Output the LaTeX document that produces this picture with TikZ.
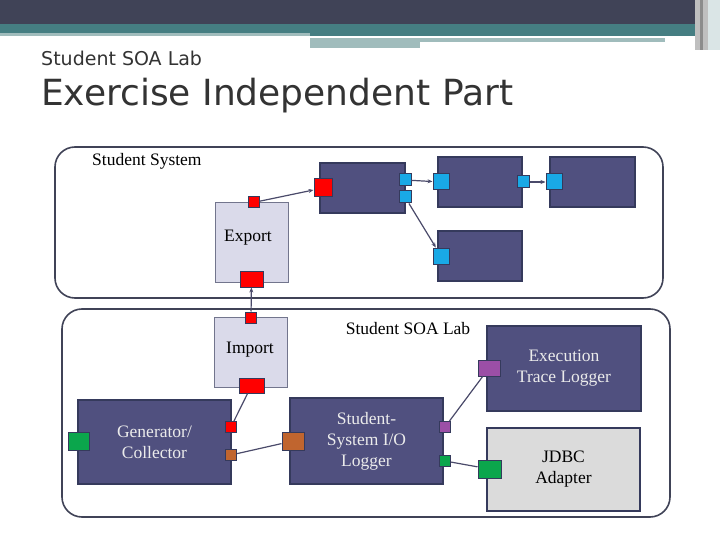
\documentclass[tikz,border=0pt]{standalone}
\usepackage{fontspec}
\setmainfont{Liberation Serif}
\newfontfamily\hdr{DejaVu Sans}
\usetikzlibrary{arrows.meta}
\definecolor{dk}{HTML}{404357}
\definecolor{teal}{HTML}{457E82}
\definecolor{lteal}{HTML}{A0BCBC}
\definecolor{boxf}{HTML}{50507F}
\definecolor{boxd}{HTML}{353A5C}
\definecolor{lite}{HTML}{DADAEA}
\definecolor{pred}{HTML}{FF0000}
\definecolor{pcy}{HTML}{19A9E6}
\definecolor{ppu}{HTML}{9B4FA6}
\definecolor{pgr}{HTML}{0BA64C}
\definecolor{por}{HTML}{C0652F}
\definecolor{ln}{HTML}{4A4A6A}
\tikzset{
 box/.style={draw=boxd,line width=1.2pt,fill=boxf,text=black!8,align=center,font=\fontsize{17.5}{21}\selectfont},
 lbox/.style={draw=boxd!70,line width=1pt,fill=lite,align=center,font=\fontsize{17.5}{21}\selectfont},
 port/.style={draw=boxd,line width=1pt,inner sep=0,minimum width=#1,minimum height=#1},
 con/.style={draw=ln,line width=1.2pt},
 arr/.style={con,-{Stealth[length=5pt,width=4pt]}},
 grp/.style={draw=dk,line width=1.6pt,rounded corners=20pt},
 lbl/.style={font=\fontsize{17.5}{21}\selectfont,inner sep=0}
}
\begin{document}
\begin{tikzpicture}[x=1pt,y=-1pt]
\useasboundingbox (0,0) rectangle (720,540);
\fill[white] (0,0) rectangle (720,540);
% header
\fill[dk] (0,0) rectangle (720,25);
\fill[teal] (0,24) rectangle (720,33);
\fill[lteal] (0,33) rectangle (310,36);
\fill[teal] (310,33) rectangle (700,36);
\fill[lteal] (310,38) rectangle (665,42);
\fill[lteal] (310,42) rectangle (420,48);
\fill[black!25] (695,0) rectangle (720,50);
\fill[black!45] (700,0) rectangle (703,50);
\fill[white!80!teal] (708,0) rectangle (720,50);
\node[anchor=west,inner sep=0,font=\hdr\fontsize{19}{22}\selectfont,text=black!80] (t1) at (41,58) {Student SOA Lab};
\node[anchor=west,inner sep=0,font=\hdr\fontsize{36}{40}\selectfont,text=black!80] (t2) at (41,96) {Exercise Independent Part};
% groups
\draw[grp] (55,147) rectangle (663,298);
\draw[grp] (62,309) rectangle (670,517);
\node[lbl,anchor=west] (ss) at (92,161) {Student System};
\node[lbl] (sl) at (408,329) {Student SOA Lab};
% upper boxes
\node[box,minimum width=85,minimum height=50] (A) at (362.5,188) {};
\node[box,minimum width=84,minimum height=50] (B) at (480,182) {};
\node[box,minimum width=85,minimum height=50] (C) at (592.5,182) {};
\node[box,minimum width=84,minimum height=50] (D) at (480,256) {};
\node[lbox,minimum width=73,minimum height=79] (E) at (251.5,242.5) {};
\node[lbl] (Et) at (248,238) {Export};
\node[port=11,fill=pred] (e1) at (253.5,202.5) {};
\node[port=11,fill=pred,minimum width=23,minimum height=16] (e2) at (251.5,279) {};
\node[port=18,fill=pred] (a1) at (323,188) {};
\node[port=12,fill=pcy] (a2) at (405,180) {};
\node[port=12,fill=pcy] (a3) at (405,197) {};
\node[port=16,fill=pcy] (b1) at (441,182) {};
\node[port=12,fill=pcy] (b2) at (523,182) {};
\node[port=16,fill=pcy] (c1) at (554,182) {};
\node[port=16,fill=pcy] (d1) at (441,256) {};
\draw[arr] (e1) -- (a1);
\draw[arr] (a2) -- (b1);
\draw[arr] (b2) -- (c1);
\draw[arr] (a3) -- (d1);
% lower
\node[lbox,minimum width=73,minimum height=70] (I) at (250.5,352) {};
\node[lbl] (It) at (250,350) {Import};
\node[port=11,fill=pred] (i1) at (251,317.5) {};
\node[port=11,fill=pred,minimum width=25,minimum height=15] (i2) at (251.5,385.5) {};
\draw[arr] (i1) -- (e2);
\node[box,minimum width=154,minimum height=85] (X) at (564,368.5) {Execution\\Trace Logger};
\node[port=16,fill=ppu,minimum width=22] (x1) at (489,368) {};
\node[lbox,fill=black!14,draw=boxd,line width=1.2pt,minimum width=153,minimum height=83] (J) at (563.5,469.5) {JDBC\\Adapter};
\node[port=18,fill=pgr,minimum width=23] (j1) at (489.5,469) {};
\node[box,minimum width=153,minimum height=84] (G) at (154.5,442) {Generator/\\Collector};
\node[port=18,fill=pgr,minimum width=21] (g0) at (78.5,441) {};
\node[port=11,fill=pred] (g1) at (231,427) {};
\node[port=11,fill=por] (g2) at (231,455) {};
\node[box,minimum width=153,minimum height=86] (L) at (366.5,441) {Student-\\System I/O\\Logger};
\node[port=18,fill=por,minimum width=22] (l0) at (293,441) {};
\node[port=11,fill=ppu] (l1) at (445,427) {};
\node[port=11,fill=pgr] (l2) at (445,461) {};
\draw[con] (g1) -- (i2);
\draw[con] (g2) -- (l0);
\draw[con] (l1) -- (x1);
\draw[con] (l2) -- (j1);
\end{tikzpicture}
\end{document}
